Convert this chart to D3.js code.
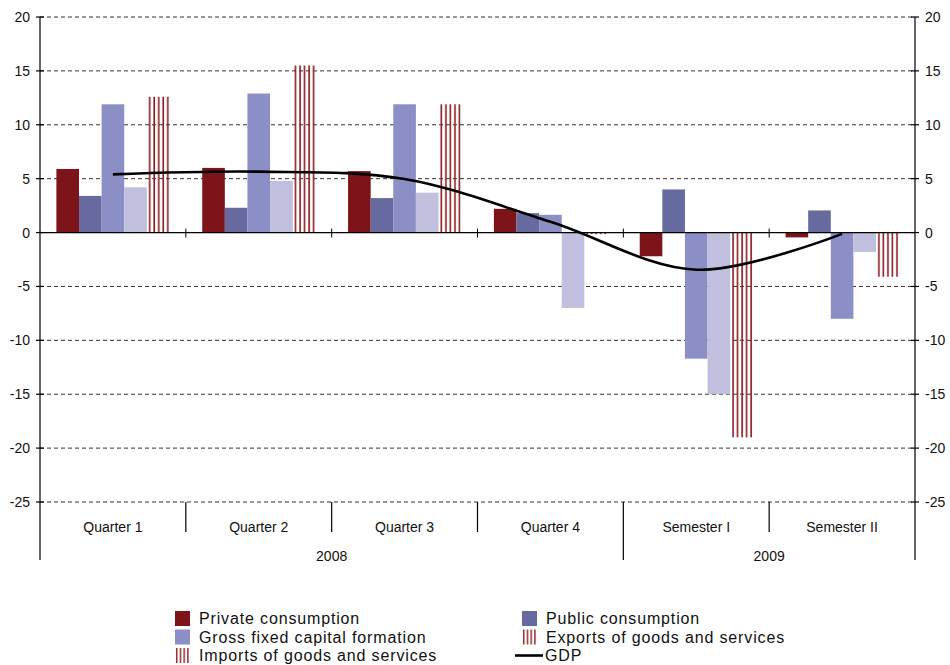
<!DOCTYPE html>
<html><head><meta charset="utf-8">
<script src="https://cdn.jsdelivr.net/npm/d3@7"></script>
<style>
html,body{margin:0;padding:0;background:#fff;}
text{font-family:"Liberation Sans",Arial,Helvetica,sans-serif;fill:#111;}
</style></head>
<body><svg id="chart" width="950" height="665"></svg>
<script>
const periods = ["Quarter 1","Quarter 2","Quarter 3","Quarter 4","Semester I","Semester II"];
const years = [{label:"2008", from:0, to:4},{label:"2009", from:4, to:6}];
const seriesNames = ["Private consumption","Public consumption","Gross fixed capital formation","Exports of goods and services","Imports of goods and services"];
const privateCons = [5.9, 6.0, 5.7, 2.2, -2.2, -0.45];
const publicCons  = [3.4, 2.3, 3.2, 1.8, 4.0, 2.05];
const gfcf        = [11.9, 12.9, 11.9, 1.65, -11.7, -8.0];
const exportsGS   = [4.2, 4.8, 3.7, -7.0, -15.0, -1.8];
const importsGS   = [12.6, 15.5, 11.9, -0.15, -19.0, -4.1];
const gdp         = [5.4, 5.65, 4.97, 1.0, -3.45, -0.12];
const yTicks = [20,15,10,5,0,-5,-10,-15,-20,-25];

const seriesValues = [privateCons, publicCons, gfcf, exportsGS, importsGS];
const fills = ["#7c141a","#666a9e","#8b8fc5","#c0bfde","url(#stripes)"];

const svg = d3.select("#chart");
const mLeft = 40, mRight = 915, mTop = 17, mBottom = 502;

const y = d3.scaleLinear().domain([-25,20]).range([mBottom, mTop]);
const x = d3.scaleBand().domain(periods).range([mLeft, mRight]).padding(0);
const xi = d3.scaleBand().domain(seriesNames).range([0, x.bandwidth()]).paddingInner(0).paddingOuter(0.725);

const defs = svg.append("defs");
const pat = defs.append("pattern").attr("id","stripes")
  .attr("patternUnits","objectBoundingBox").attr("x",0).attr("y",0)
  .attr("width",0.2).attr("height",1);
pat.append("rect").attr("x",2.1).attr("y",0).attr("width",1.6).attr("height",2000).attr("fill","#8b1a1f");
const pat2 = defs.append("pattern").attr("id","stripesLegend")
  .attr("patternUnits","objectBoundingBox").attr("x",0).attr("y",0)
  .attr("width",0.25).attr("height",1);
pat2.append("rect").attr("x",1).attr("y",0).attr("width",1.4).attr("height",100).attr("fill","#8b1a1f");

// gridlines
svg.append("g").selectAll("line").data(yTicks.filter(d=>d!==0)).join("line")
  .attr("x1",mLeft).attr("x2",mRight).attr("y1",d=>y(d)).attr("y2",d=>y(d))
  .attr("stroke","#333").attr("stroke-width",1).attr("stroke-dasharray","4,3");

// bars
const rows = [];
periods.forEach((p,i)=>seriesNames.forEach((s,j)=>rows.push({p, s, v: seriesValues[j][i], j})));
svg.append("g").selectAll("rect").data(rows).join("rect")
  .attr("x", d=>x(d.p)+xi(d.s))
  .attr("width", xi.bandwidth())
  .attr("y", d=>y(Math.max(0,d.v)))
  .attr("height", d=>Math.abs(y(d.v)-y(0)))
  .attr("fill", d=>fills[d.j]);

// zero line
svg.append("line").attr("x1",mLeft).attr("x2",mRight).attr("y1",y(0)).attr("y2",y(0))
  .attr("stroke","#000").attr("stroke-width",1.3);
svg.append("g").selectAll("line").data(periods.slice(1)).join("line")
  .attr("x1",d=>x(d)).attr("x2",d=>x(d)).attr("y1",y(0)-4).attr("y2",y(0)+5)
  .attr("stroke","#000").attr("stroke-width",1);

// axes
const axisBottom = 560;
svg.append("line").attr("x1",mLeft).attr("x2",mLeft).attr("y1",mTop).attr("y2",axisBottom).attr("stroke","#000").attr("stroke-width",1.2);
svg.append("line").attr("x1",mRight).attr("x2",mRight).attr("y1",mTop).attr("y2",axisBottom).attr("stroke","#000").attr("stroke-width",1.2);
[mLeft,mRight].forEach(ax=>{
  svg.append("g").selectAll("line").data(yTicks).join("line")
    .attr("x1",ax-4).attr("x2",ax+4).attr("y1",d=>y(d)).attr("y2",d=>y(d))
    .attr("stroke","#000").attr("stroke-width",1.2);
});
svg.append("g").selectAll("text").data(yTicks).join("text")
  .attr("x",30).attr("y",d=>y(d)).attr("dy","0.36em").attr("text-anchor","end")
  .style("font-size","14px").text(d=>d);
svg.append("g").selectAll("text").data(yTicks).join("text")
  .attr("x",925).attr("y",d=>y(d)).attr("dy","0.36em").attr("text-anchor","start")
  .style("font-size","14px").text(d=>d);

// category separators below plot
svg.append("g").selectAll("line").data(periods.slice(1)).join("line")
  .attr("x1",d=>x(d)).attr("x2",d=>x(d)).attr("y1",mBottom)
  .attr("y2",(d,i)=> years.some(yr=>yr.from===i+1) ? axisBottom : 532)
  .attr("stroke","#000").attr("stroke-width",1.2);
svg.append("g").selectAll("text").data(periods).join("text")
  .attr("x",d=>x(d)+x.bandwidth()/2).attr("y",527).attr("dy","0.36em")
  .attr("text-anchor","middle").style("font-size","14px").text(d=>d);
svg.append("g").selectAll("text").data(years).join("text")
  .attr("x",d=>(x(periods[d.from]) + x(periods[d.to-1]) + x.bandwidth())/2)
  .attr("y",556).attr("dy","0.36em").attr("text-anchor","middle")
  .style("font-size","14px").text(d=>d.label);

// GDP line
const line = d3.line().x((d,i)=>x(periods[i])+x.bandwidth()/2).y(d=>y(d)).curve(d3.curveCatmullRom.alpha(0.5));
svg.append("path").datum(gdp).attr("d",line).attr("fill","none").attr("stroke","#000").attr("stroke-width",2.6);

// legend
const legendItems = [
  {name:seriesNames[0], fill:"#7c141a", col:0, row:0},
  {name:seriesNames[1], fill:"#666a9e", col:1, row:0},
  {name:seriesNames[2], fill:"#8b8fc5", col:0, row:1},
  {name:seriesNames[3], fill:"url(#stripesLegend)", col:1, row:1},
  {name:seriesNames[4], fill:"url(#stripesLegend)", col:0, row:2},
  {name:"GDP", line:true, col:1, row:2}
];
const colX = [175, 522];
const lg = svg.append("g");
legendItems.forEach(it=>{
  const gx = colX[it.col], gy = 611 + it.row*18.5;
  if(it.line){
    lg.append("line").attr("x1",515).attr("x2",543).attr("y1",gy+7.5).attr("y2",gy+7.5).attr("stroke","#000").attr("stroke-width",2.6);
    lg.append("text").attr("x",545).attr("y",gy+7.5).attr("dy","0.36em").style("font-size","16px").style("letter-spacing","0.85px").text(it.name);
  } else {
    lg.append("rect").attr("x",gx).attr("y",gy).attr("width",15).attr("height",15).attr("fill",it.fill);
    lg.append("text").attr("x",gx+24).attr("y",gy+7.5).attr("dy","0.36em").style("font-size","16px").style("letter-spacing","0.85px").text(it.name);
  }
});
</script></body></html>
